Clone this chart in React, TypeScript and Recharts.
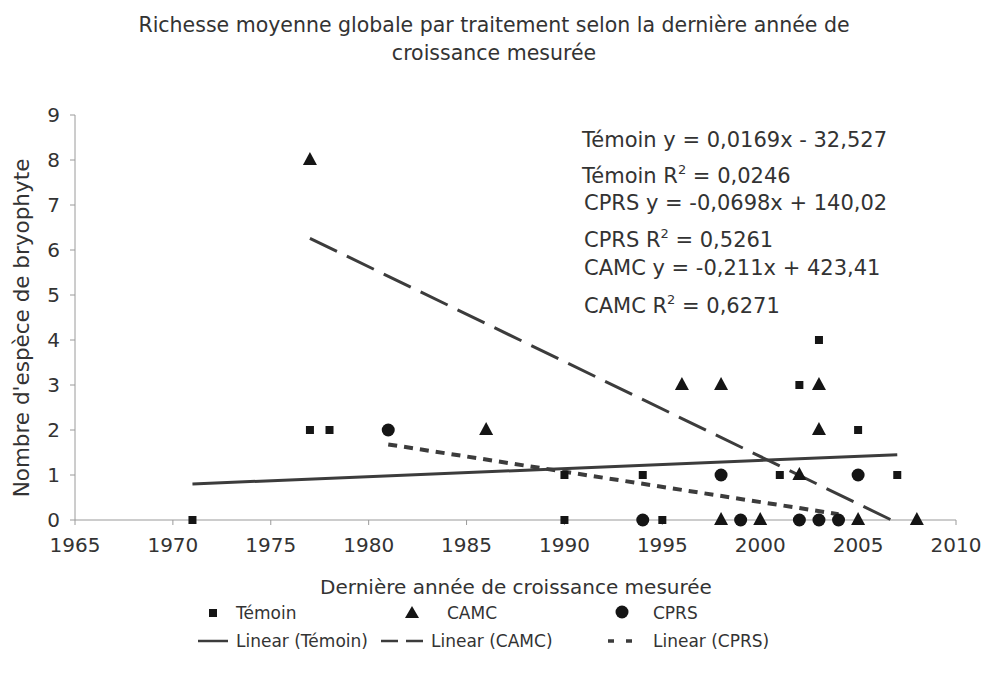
import React from 'react';
import { ScatterChart, Scatter, XAxis, YAxis } from 'recharts';

const temoinYears = [1971, 1977, 1978, 1990, 1990, 1994, 1995, 2001, 2002, 2003, 2003, 2005, 2007];
const temoinValues = [0, 2, 2, 1, 0, 1, 0, 1, 3, 4, 0, 2, 1];
const camcYears = [1977, 1986, 1996, 1998, 1998, 2000, 2002, 2003, 2003, 2005, 2008];
const camcValues = [8, 2, 3, 3, 0, 0, 1, 3, 2, 0, 0];
const cprsYears = [1981, 1994, 1998, 1999, 2002, 2003, 2004, 2005];
const cprsValues = [2, 0, 1, 0, 0, 0, 0, 1];

const trendTemoinYears = [1971, 2007];
const trendTemoinValues = [0.8, 1.45];
const trendCamcYears = [1977, 2006.7];
const trendCamcValues = [6.26, 0];
const trendCprsYears = [1981, 2004];
const trendCprsValues = [1.68, 0.13];

const xTicks = [1965, 1970, 1975, 1980, 1985, 1990, 1995, 2000, 2005, 2010];
const yTicks = [0, 1, 2, 3, 4, 5, 6, 7, 8, 9];

const equations: [string, string, string][] = [
  ['Témoin y = 0,0169x - 32,527', '', ''],
  ['Témoin R', '2', ' = 0,0246'],
  ['CPRS y = -0,0698x + 140,02', '', ''],
  ['CPRS R', '2', ' = 0,5261'],
  ['CAMC y = -0,211x + 423,41', '', ''],
  ['CAMC R', '2', ' = 0,6271'],
];

const zip = (xs: number[], ys: number[]) => xs.map((x, i) => ({ x, y: ys[i] }));

const temoinData = zip(temoinYears, temoinValues);
const camcData = zip(camcYears, camcValues);
const cprsData = zip(cprsYears, cprsValues);
const trendTemoin = zip(trendTemoinYears, trendTemoinValues);
const trendCamc = zip(trendCamcYears, trendCamcValues);
const trendCprs = zip(trendCprsYears, trendCprsValues);

const MARK = '#151515';
const LINE = '#3c3c3c';
const TEXT = '#333333';
const FONT = '"DejaVu Sans", Verdana, sans-serif';

const Square = (p: any) => <rect x={p.cx - 4} y={p.cy - 4} width={8} height={8} fill={MARK} />;
const Triangle = (p: any) => (
  <polygon points={`${p.cx},${p.cy - 8} ${p.cx - 7},${p.cy + 5} ${p.cx + 7},${p.cy + 5}`} fill={MARK} />
);
const Dot = (p: any) => <circle cx={p.cx} cy={p.cy} r={6.5} fill={MARK} />;
const NoShape = () => <g />;

const eqBaselines = [147, 183, 210, 247, 275, 313];
const eqLefts = [582, 582, 584, 584, 584, 584];

export default function App() {
  return (
    <div style={{ position: 'absolute', left: 0, top: 0, width: 987, height: 683, background: '#fff' }}>
      <ScatterChart width={987} height={683} margin={{ top: 115, right: 31, bottom: 133, left: 30 }}>
        <XAxis
          type="number"
          dataKey="x"
          domain={[1965, 2010]}
          ticks={xTicks}
          interval={0}
          height={30}
          stroke="#9a9a9a"
          tickSize={5}
          tick={{ fill: TEXT, fontSize: 20, fontFamily: FONT }}
          tickMargin={13}
        />
        <YAxis
          type="number"
          dataKey="y"
          domain={[0, 9]}
          ticks={yTicks}
          interval={0}
          width={45}
          stroke="#9a9a9a"
          tickSize={5}
          tick={{ fill: TEXT, fontSize: 20, fontFamily: FONT }}
          tickMargin={10}
        />
        <Scatter data={trendTemoin} shape={NoShape} line={{ stroke: LINE, strokeWidth: 3 }} isAnimationActive={false} />
        <Scatter data={trendCamc} shape={NoShape} line={{ stroke: LINE, strokeWidth: 3, strokeDasharray: '30 11' }} isAnimationActive={false} />
        <Scatter data={trendCprs} shape={NoShape} line={{ stroke: LINE, strokeWidth: 4, strokeDasharray: '9 7' }} isAnimationActive={false} />
        <Scatter data={temoinData} shape={Square} isAnimationActive={false} />
        <Scatter data={camcData} shape={Triangle} isAnimationActive={false} />
        <Scatter data={cprsData} shape={Dot} isAnimationActive={false} />
      </ScatterChart>

      <svg width={987} height={683} style={{ position: 'absolute', left: 0, top: 0, pointerEvents: 'none' }}>
        <g fontFamily={FONT} fill={TEXT}>
          <text x={494} y={32} fontSize={20.5} textAnchor="middle">
            Richesse moyenne globale par traitement selon la dernière année de
          </text>
          <text x={494} y={60} fontSize={20.5} textAnchor="middle">
            croissance mesurée
          </text>

          {equations.map((e, i) => (
            <text key={i} x={eqLefts[i]} y={eqBaselines[i]} fontSize={21}>
              {e[0]}
              {e[1] ? (
                <tspan dy={-9} fontSize={13}>
                  {e[1]}
                </tspan>
              ) : null}
              {e[2] ? <tspan dy={9}>{e[2]}</tspan> : null}
            </text>
          ))}

          <text x={29} y={328} fontSize={21.5} textAnchor="middle" transform="rotate(-90 29 328)">
            Nombre d'espèce de bryophyte
          </text>

          <text x={516} y={594} fontSize={20} textAnchor="middle">
            Dernière année de croissance mesurée
          </text>

          <rect x={209} y={609} width={8} height={8} fill={MARK} />
          <polygon points="412,606 405,618 419,618" fill={MARK} />
          <circle cx={622} cy={612} r={6.5} fill={MARK} />
          <line x1={198} y1={641} x2={228} y2={641} stroke={LINE} strokeWidth={2.5} />
          <line x1={381} y1={641} x2={423} y2={641} stroke={LINE} strokeWidth={2.5} strokeDasharray="17 8" />
          <line x1={608} y1={641} x2={638} y2={641} stroke={LINE} strokeWidth={3.5} strokeDasharray="6 12" />
          <g fontSize={17}>
            <text x={236} y={619}>Témoin</text>
            <text x={447} y={619}>CAMC</text>
            <text x={653} y={619}>CPRS</text>
            <text x={236} y={647}>Linear (Témoin)</text>
            <text x={431} y={647}>Linear (CAMC)</text>
            <text x={653} y={647}>Linear (CPRS)</text>
          </g>
        </g>
      </svg>
    </div>
  );
}
